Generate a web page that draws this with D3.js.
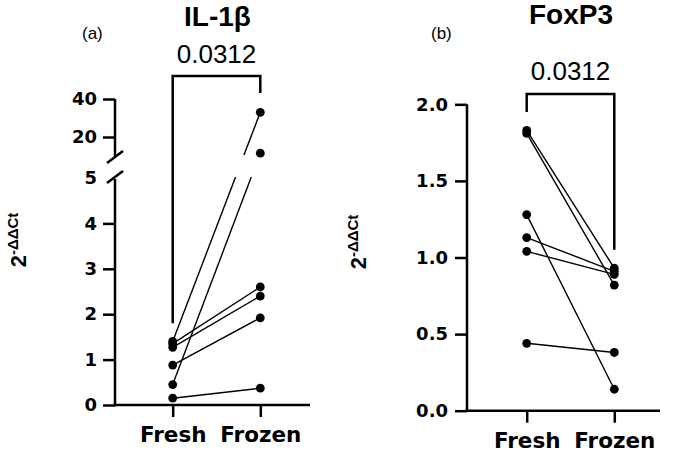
<!DOCTYPE html>
<html>
<head>
<meta charset="utf-8">
<script src="https://cdn.jsdelivr.net/npm/d3@7"></script>
<style>
  html, body { margin: 0; padding: 0; background: #fff; }
  svg { display: block; }
  .tick text { font-family: "DejaVu Sans", sans-serif; font-weight: bold; fill: #000; }
  .tick line { stroke: #000; stroke-width: 2.5; }
</style>
</head>
<body>
<div id="chart"></div>
<script>
// ── data ──────────────────────────────────────────────────────────────────────
const groups = ['Fresh', 'Frozen'];

// IL-1β, paired samples (same index = same sample)
const il1bFresh  = [1.40, 1.35, 1.27, 0.88, 0.45, 0.15];
const il1bFrozen = [33,   2.60, 2.40, 1.92, 11.5, 0.37];

// FoxP3, paired samples
const foxFresh  = [1.83, 1.81, 1.28, 1.13, 1.04, 0.44];
const foxFrozen = [0.93, 0.82, 0.14, 0.91, 0.89, 0.38];

const il1bTicksLow  = [0, 1, 2, 3, 4, 5];
const il1bTicksHigh = [20, 40];
const foxTicks      = [0, 0.5, 1.0, 1.5, 2.0];

const titles  = ['IL-1β', 'FoxP3'];
const panels  = ['(a)', '(b)'];
const pValues = ['0.0312', '0.0312'];

// ── layout ────────────────────────────────────────────────────────────────────
const W = 680, H = 453;

const svg = d3.select('#chart').append('svg')
  .attr('width', W).attr('height', H);
svg.append('rect').attr('width', W).attr('height', H).attr('fill', '#fff');

const tickFont = '18px';
const catFont  = '21.5px';

function pairs(a, b) { return a.map((v, i) => [v, b[i]]); }

function yLabel(cx, cy) {
  const t = svg.append('text')
    .attr('transform', `translate(${cx},${cy}) rotate(-90)`)
    .attr('text-anchor', 'middle')
    .attr('font-family', 'Liberation Sans, Arial, sans-serif')
    .attr('font-weight', 'bold')
    .attr('font-size', '22px');
  t.append('tspan').text('2');
  t.append('tspan').attr('font-size', '15px').attr('dy', -8).text('-ΔΔCt');
}

function xAxis(x, y0, x0, x1) {
  const g = svg.append('g')
    .attr('transform', `translate(0,${y0})`)
    .call(d3.axisBottom(x).tickSize(12).tickPadding(10))
    .call(g => g.select('.domain').remove());
  g.selectAll('.tick text').style('font-size', catFont);
  svg.append('line')
    .attr('x1', x0 - 1.25).attr('x2', x1)
    .attr('y1', y0).attr('y2', y0)
    .attr('stroke', '#000').attr('stroke-width', 2.5);
}

function bracket(xa, xb, yTop, yLeft, yRight, label, labelY) {
  svg.append('path')
    .attr('d', `M${xa},${yLeft}V${yTop}H${xb}V${yRight}`)
    .attr('fill', 'none').attr('stroke', '#000')
    .attr('stroke-width', 2.5).attr('stroke-linejoin', 'miter');
  svg.append('text')
    .attr('x', (xa + xb) / 2).attr('y', labelY)
    .attr('text-anchor', 'middle')
    .attr('font-family', 'Liberation Sans, Arial, sans-serif')
    .attr('font-size', '26px')
    .text(label);
}

function header(title, tx, ty, panel, px) {
  svg.append('text')
    .attr('x', tx).attr('y', ty)
    .attr('text-anchor', 'middle')
    .attr('font-family', 'Liberation Sans, Arial, sans-serif')
    .attr('font-weight', 'bold')
    .attr('font-size', '28px')
    .text(title);
  svg.append('text')
    .attr('x', px).attr('y', 39)
    .attr('font-family', 'Liberation Sans, Arial, sans-serif')
    .attr('font-size', '17px')
    .text(panel);
}

function drawPairs(data, x, y, clip) {
  const g = svg.append('g');
  g.append('g')
    .attr('clip-path', clip ? `url(#${clip})` : null)
    .selectAll('line')
    .data(data)
    .join('line')
      .attr('x1', x(groups[0])).attr('x2', x(groups[1]))
      .attr('y1', d => y(d[0])).attr('y2', d => y(d[1]))
      .attr('stroke', '#000').attr('stroke-width', 1.4);
  const pts = data.flatMap(d => [[groups[0], d[0]], [groups[1], d[1]]]);
  g.selectAll('circle')
    .data(pts)
    .join('circle')
      .attr('cx', d => x(d[0]))
      .attr('cy', d => y(d[1]))
      .attr('r', 4.4)
      .attr('fill', '#000');
}

// ── panel (a): IL-1β with broken y axis ──────────────────────────────────────
{
  const axX = 115;
  const x = d3.scalePoint().domain(groups).range([172.7, 260.3]);
  const yLow  = d3.scaleLinear().domain([0, 5]).range([405, 178]);
  const yHigh = d3.scaleLinear().domain([10, 40]).range([156, 99]);
  const y = v => (v <= 5 ? yLow(v) : yHigh(v));

  // hide connecting lines inside the break
  const cp = svg.append('defs').append('clipPath').attr('id', 'gapA');
  cp.append('rect').attr('x', 0).attr('y', 0).attr('width', W).attr('height', yHigh(10) - 1);
  cp.append('rect').attr('x', 0).attr('y', yLow(5) - 1).attr('width', W).attr('height', H);

  const gl = svg.append('g')
    .attr('transform', `translate(${axX},0)`)
    .call(d3.axisLeft(yLow).tickValues(il1bTicksLow).tickFormat(d3.format('d'))
      .tickSize(12).tickSizeOuter(0).tickPadding(6));
  gl.selectAll('.tick').filter(d => d === 5).select('line').remove();
  gl.select('.domain').attr('stroke-width', 2.5).attr('d', `M0,${yLow(0) + 1.25}V${yLow(5) + 1}`);

  const gh = svg.append('g')
    .attr('transform', `translate(${axX},0)`)
    .call(d3.axisLeft(yHigh).tickValues(il1bTicksHigh).tickFormat(d3.format('d'))
      .tickSize(12).tickSizeOuter(0).tickPadding(6));
  gh.select('.domain').attr('stroke-width', 2.5).attr('d', `M0,${yHigh(40)}V${yHigh(10) + 1}`);
  [gl, gh].forEach(g => g.selectAll('.tick text').style('font-size', tickFont));

  // break marks
  [yHigh(10) + 1, yLow(5) - 1].forEach(yy => {
    svg.append('line')
      .attr('x1', axX - 8).attr('y1', yy + 6)
      .attr('x2', axX + 8).attr('y2', yy - 6)
      .attr('stroke', '#000').attr('stroke-width', 2.5);
  });

  xAxis(x, yLow(0), axX, 310);
  drawPairs(pairs(il1bFresh, il1bFrozen), x, y, 'gapA');
  bracket(x(groups[0]), x(groups[1]), 76, yLow(1.8), 93, pValues[0], 63);
  header(titles[0], 217.5, 26, panels[0], 82);
  yLabel(26, 240);
}

// ── panel (b): FoxP3 ─────────────────────────────────────────────────────────
{
  const axX = 467;
  const x = d3.scalePoint().domain(groups).range([526.7, 614.3]);
  const y = d3.scaleLinear().domain([0, 2]).range([410.7, 104.3]);

  const g = svg.append('g')
    .attr('transform', `translate(${axX},0)`)
    .call(d3.axisLeft(y).tickValues(foxTicks).tickFormat(d3.format('.1f'))
      .tickSize(12).tickSizeOuter(0).tickPadding(7));
  g.select('.domain').attr('stroke-width', 2.5).attr('d', `M0,${y(0) + 1.25}V${y(2)}`);
  g.selectAll('.tick text').style('font-size', tickFont);

  xAxis(x, y(0), axX, 660);
  drawPairs(pairs(foxFresh, foxFrozen), x, y, null);
  bracket(x(groups[0]), x(groups[1]), 94, 112, y(1.05), pValues[1], 80);
  header(titles[1], 571, 24, panels[1], 431);
  yLabel(366, 242);
}
</script>
</body>
</html>
